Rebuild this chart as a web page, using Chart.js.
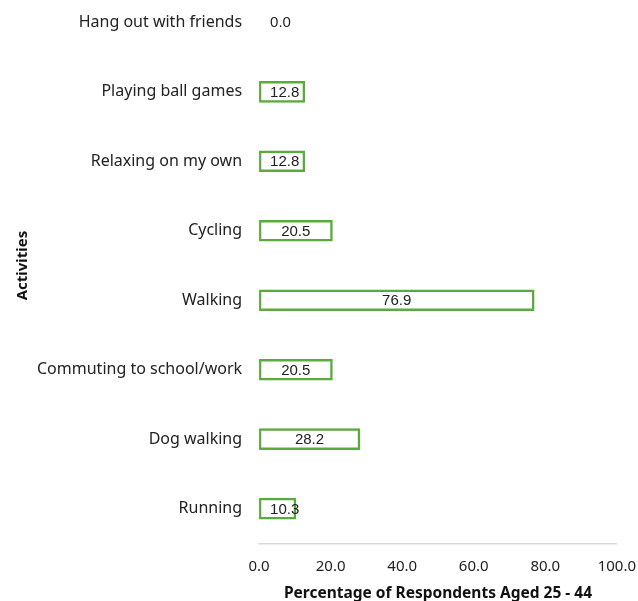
<!DOCTYPE html>
<html>
<head>
<meta charset="utf-8">
<script src="https://cdn.jsdelivr.net/npm/chart.js@4"></script>
<style>
  html, body { margin: 0; padding: 0; background: #fff; overflow: hidden; }
  #wrap { position: absolute; left: 0; top: -39px; width: 650px; height: 647px; }
</style>
</head>
<body>
<div id="wrap"><canvas id="myChart"></canvas></div>
<script>
var activities = ['Hang out with friends', 'Playing ball games', 'Relaxing on my own', 'Cycling',
  'Walking', 'Commuting to school/work', 'Dog walking', 'Running'];
var percentages = [0.0, 12.8, 12.8, 20.5, 76.9, 20.5, 28.2, 10.3];
var xTicks = [0, 20, 40, 60, 80, 100];

var labelFont = '"Noto Sans", "Liberation Sans", sans-serif';

// draws the value labels on the bars
var barLabels = {
  id: 'barLabels',
  afterDatasetsDraw: function(chart) {
    var ctx = chart.ctx;
    var meta = chart.getDatasetMeta(0);
    ctx.save();
    ctx.font = '15px "Liberation Sans", Arial, sans-serif';
    ctx.fillStyle = '#222';
    ctx.textBaseline = 'middle';
    ctx.textAlign = 'left';
    meta.data.forEach(function(bar, i) {
      var txt = percentages[i].toFixed(1);
      var w = ctx.measureText(txt).width;
      var center = (bar.x + bar.base) / 2;
      var left = Math.max(center - w / 2, bar.base + 11);
      ctx.fillText(txt, left, bar.y + 1);
    });
    ctx.restore();
  }
};

var ctx = document.getElementById('myChart').getContext('2d');
var chart = new Chart(ctx, {
  type: 'bar',
  data: {
    labels: activities,
    datasets: [{
      data: percentages,
      backgroundColor: '#ffffff',
      borderColor: '#5aab3c',
      borderWidth: 2.5,
      borderSkipped: false,
      barThickness: 21
    }]
  },
  options: {
    indexAxis: 'y',
    responsive: true,
    maintainAspectRatio: false,
    animation: false,
    layout: { padding: { left: 14, right: 0, top: 0, bottom: 0 } },
    plugins: {
      legend: { display: false },
      tooltip: { enabled: false }
    },
    scales: {
      x: {
        min: 0,
        max: 100,
        afterBuildTicks: function(scale) {
          scale.ticks = xTicks.map(function(v) { return { value: v }; });
        },
        grid: { display: false, drawTicks: false },
        border: { display: true, color: '#d9d9d9', width: 1.5 },
        ticks: {
          padding: 14,
          color: '#222',
          font: { family: labelFont, size: 15 },
          callback: function(v) { return Number(v).toFixed(1); }
        },
        title: {
          display: true,
          text: 'Percentage of Respondents Aged 25 - 44',
          color: '#111',
          font: { family: labelFont, size: 15.5, weight: 'bold' },
          padding: { top: -5, bottom: 5 }
        }
      },
      y: {
        grid: { display: false, drawTicks: false },
        border: { display: false },
        ticks: {
          padding: 17,
          color: '#222',
          font: { family: labelFont, size: 16 }
        },
        title: {
          display: true,
          text: 'Activities',
          color: '#111',
          font: { family: labelFont, size: 15, weight: 'bold' },
          padding: { top: 0, bottom: -12 }
        }
      }
    }
  },
  plugins: [barLabels]
});
</script>
</body>
</html>
